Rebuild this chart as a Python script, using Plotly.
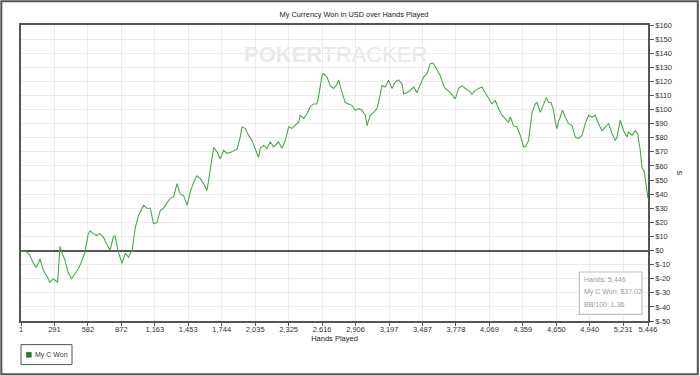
import plotly.graph_objects as go

hands = [1, 30, 50, 64, 79, 108, 134, 166, 195, 221, 253, 281, 296, 319, 340, 354, 383, 412, 440, 470,
         499, 527, 557, 585, 600, 629, 657, 687, 716, 744, 774, 803, 817, 846, 861, 878, 907, 935, 965, 994,
         1022, 1052, 1066, 1095, 1124, 1152, 1182, 1211, 1239, 1269, 1298, 1326, 1356, 1384, 1413, 1443, 1471, 1500, 1529, 1558,
         1587, 1616, 1645, 1674, 1703, 1732, 1760, 1790, 1833, 1877, 1905, 1920, 1949, 1977, 2007, 2036, 2064, 2079, 2108, 2137,
         2166, 2195, 2238, 2267, 2296, 2325, 2354, 2383, 2412, 2426, 2455, 2485, 2513, 2542, 2571, 2585, 2615, 2629, 2658, 2687,
         2716, 2745, 2759, 2789, 2817, 2846, 2875, 2904, 2933, 2962, 2991, 3006, 3034, 3063, 3092, 3106, 3136, 3165, 3193, 3223,
         3251, 3280, 3310, 3324, 3353, 3382, 3410, 3440, 3469, 3497, 3527, 3555, 3579, 3613, 3642, 3671, 3686, 3729, 3772, 3801,
         3831, 3859, 3888, 3917, 3946, 3975, 4004, 4033, 4062, 4091, 4120, 4148, 4178, 4207, 4235, 4250, 4279, 4308, 4337, 4366,
         4380, 4409, 4439, 4467, 4482, 4511, 4539, 4563, 4583, 4604, 4626, 4641, 4656, 4670, 4684, 4704, 4728, 4756, 4786, 4815,
         4843, 4873, 4901, 4930, 4960, 4988, 5017, 5046, 5075, 5104, 5133, 5162, 5177, 5205, 5234, 5264, 5277, 5307, 5336, 5356,
         5379, 5394, 5414, 5431, 5446]
won = [0, -0.5, -1, -2, -3.5, -9, -12, -6, -14, -17.6, -22.5, -20, -21, -22.5, 3, -1, -7, -16, -20, -16,
       -13, -8, -1, 12, 14, 12, 10.6, 12, 9.5, 5, 0, 9.5, 10.6, -1, -4.7, -9, -2, -4.7, 0, 16.5,
       25, 30, 32, 30, 30, 19, 20, 28.5, 30, 34, 37, 38, 47.5, 40, 39, 32, 41.5, 48.5, 53, 51,
       47.5, 42.6, 58, 73, 70, 65, 71, 69, 70, 72, 80.5, 87.6, 86.7, 81.7, 78, 72.5, 66, 72.5, 74.6, 72.5,
       77, 73.5, 77, 72.5, 78, 87.6, 86.7, 89, 91, 96, 93.6, 97, 102, 104, 104, 109, 124, 125.5, 123, 117,
       115, 118, 121, 112, 105, 104, 103, 99.5, 100.6, 99.5, 96, 88.6, 96, 98, 100.6, 105, 117, 116, 121, 115,
       119.5, 121, 118, 111, 112, 113.6, 116, 112, 118, 123, 125.5, 132.6, 133, 128, 124, 117, 115, 112, 107.6, 115,
       117, 115, 113.6, 111, 113.6, 115, 116, 112, 107.6, 104, 106.5, 100.6, 96, 93.6, 91, 94.7, 88.6, 87.6, 81.7, 73.5,
       73.5, 78, 98, 104, 105, 98, 103, 108.5, 105, 105, 99.5, 91, 86.5, 92, 94.6, 99.5, 94.6, 90, 88.6, 80.5,
       79.4, 81.7, 90, 96, 94.7, 96, 90, 85, 87.6, 90, 83, 78, 80.5, 92.4, 85, 80.5, 84, 81.7, 85, 83,
       71, 59, 55.7, 47.4, 37.02]

x_ticks = [1, 291, 582, 872, 1163, 1453, 1744, 2035, 2325, 2616, 2906, 3197, 3487, 3778, 4069, 4359, 4650, 4940, 5231, 5446]
x_labels = ["1", "291", "582", "872", "1,163", "1,453", "1,744", "2,035", "2,325", "2,616", "2,906", "3,197",
            "3,487", "3,778", "4,069", "4,359", "4,650", "4,940", "5,231", "5,446"]
y_ticks = list(range(-50, 161, 10))
y_labels = ["$%d" % v for v in y_ticks]

title_text = "My Currency Won in USD over Hands Played"
series_name = "My C Won"
info_lines = ["Hands: 5,446", "My C Won: $37.02", "BB/100: 1.36"]

FONT = "Liberation Sans, Arial, sans-serif"
W, H = 700, 376
L, R, T, B = 20.7, 52.3, 24.7, 55.3
PW, PH = W - L - R, H - T - B


def px(x):
    return (x - L) / PW


def py(y):
    return (H - B - y) / PH


fig = go.Figure()
fig.add_trace(go.Scatter(x=hands, y=won, mode="lines", name=series_name,
                         line=dict(color="#49a949", width=1.1),
                         showlegend=False, hoverinfo="skip"))

fig.update_layout(
    width=W, height=H,
    margin=dict(l=L, r=R, t=T, b=B, autoexpand=False),
    paper_bgcolor="white", plot_bgcolor="white",
    font=dict(family=FONT, size=7.5, color="#333333"),
    title=dict(text=title_text, x=354 / W, xanchor="center", y=1 - 14 / H, yanchor="middle",
               font=dict(size=7.4, color="#222222")),
    showlegend=False,
)
fig.update_xaxes(range=[1, 5446], tickmode="array", tickvals=x_ticks, ticktext=x_labels,
                 showgrid=True, gridcolor="#ececec", gridwidth=1,
                 showline=True, linecolor="#555555", linewidth=1.5, mirror=True,
                 ticks="outside", ticklen=3, tickcolor="#555555", automargin=False,
                 ticklabelstandoff=-3,
                 tickfont=dict(size=7.5, color="#333333"),
                 title=dict(text="Hands Played", font=dict(size=7.5, color="#222222"), standoff=2),
                 zeroline=False)
fig.update_yaxes(range=[-50, 160], side="right", tickmode="array", tickvals=y_ticks, ticktext=y_labels,
                 showgrid=True, gridcolor="#ececec", gridwidth=1,
                 showline=True, linecolor="#555555", linewidth=1.5, mirror=True,
                 ticks="outside", ticklen=4, tickcolor="#555555", automargin=False,
                 tickfont=dict(size=7.5, color="#333333"),
                 zeroline=True, zerolinecolor="#555555", zerolinewidth=1.5,
                 title=dict(text="$", font=dict(size=7.5, color="#222222"), standoff=6))

# watermark
fig.add_annotation(text="<b>POKER</b>TRACKER", xref="paper", yref="paper", x=px(335), y=py(54),
                   showarrow=False, font=dict(size=22, color="#e9e9e9", family=FONT),
                   xanchor="center", yanchor="middle")

# info box
fig.add_shape(type="rect", xref="paper", yref="paper", x0=px(579), x1=px(641.7), y0=py(314), y1=py(271.7),
              line=dict(color="#c0c0c0", width=1.2), fillcolor="white")
for i, t in enumerate(info_lines):
    fig.add_annotation(text=t, xref="paper", yref="paper", x=px(581.5), y=py(279.5 + 12.2 * i),
                       showarrow=False, xanchor="left", yanchor="middle",
                       font=dict(size=7, color="#9a9a9a", family=FONT))

# legend box (drawn)
fig.add_shape(type="rect", xref="paper", yref="paper", x0=px(20.7), x1=px(71.7), y0=py(364.3), y1=py(344.3),
              line=dict(color="#555555", width=1), fillcolor="white")
fig.add_shape(type="rect", xref="paper", yref="paper", x0=px(26), x1=px(31), y0=py(357), y1=py(352),
              line=dict(color="#1e6e1e", width=0.5), fillcolor="#2a7d2a")
fig.add_annotation(text=series_name, xref="paper", yref="paper", x=px(33), y=py(354.5),
                   showarrow=False, xanchor="left", yanchor="middle",
                   font=dict(size=7, color="#333333", family=FONT))

# outer frame
fig.add_shape(type="rect", xref="paper", yref="paper", x0=px(1), x1=px(697.5), y0=py(374), y1=py(1),
              line=dict(color="#555555", width=2), fillcolor="rgba(0,0,0,0)", layer="below")

fig.write_html("out.html", config={"displayModeBar": False},
               post_script="document.body.style.margin='0';document.body.style.overflow='hidden';")
